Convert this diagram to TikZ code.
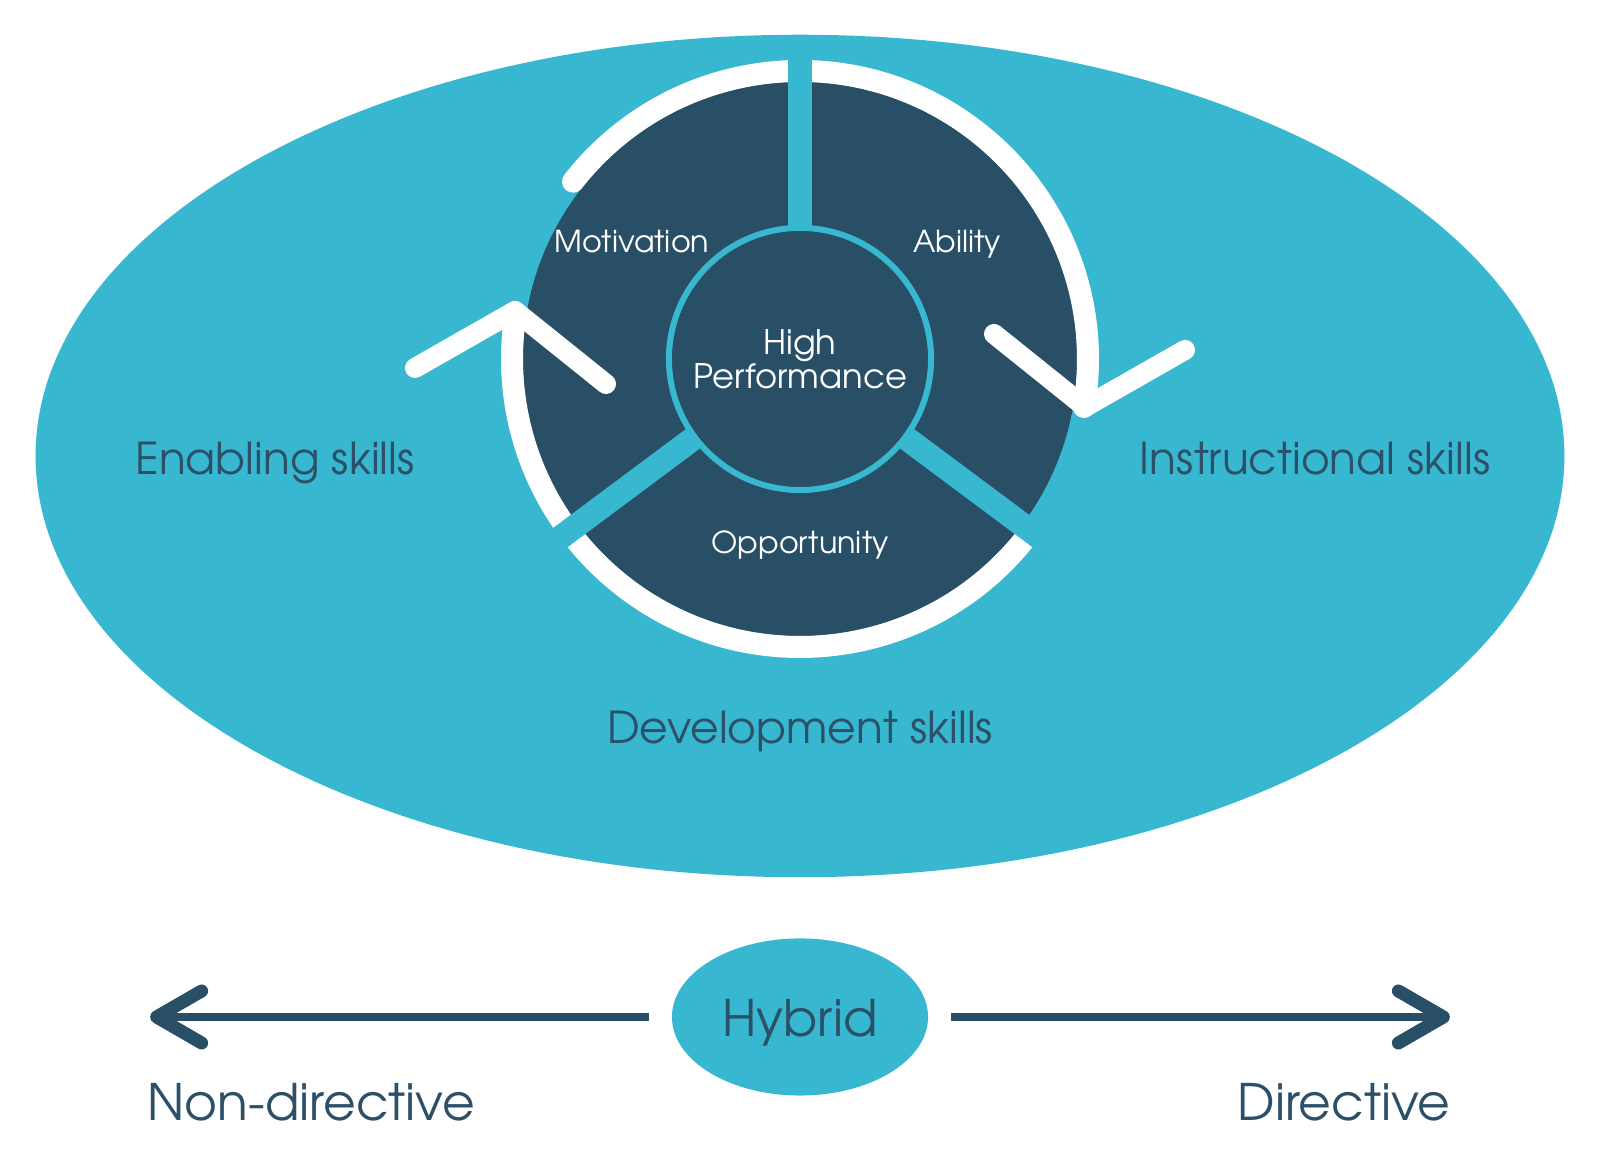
\documentclass[tikz,border=0pt]{standalone}
\usepackage{fontspec}
\setmainfont{TeX Gyre Adventor}
\usepackage{tikz}
\usetikzlibrary{calc,shapes.geometric}
\definecolor{skyteal}{RGB}{56,184,208}
\definecolor{deepnavy}{RGB}{41,79,102}
\definecolor{inkblue}{RGB}{44,80,104}
\newcommand{\skillfont}{\fontsize{12.5}{15}\selectfont}
\newcommand{\hubfont}{\fontsize{9.6}{9.6}\selectfont}
\newcommand{\wheelfont}{\fontsize{8.6}{10}\selectfont}
\newcommand{\axisfont}{\fontsize{14.3}{17}\selectfont}

\begin{document}
\begin{tikzpicture}[x=0.01cm,y=0.01cm,
    ring/.style={draw=white,line width=0.22cm},
    spoke/.style={draw=skyteal,line width=0.24cm},
    barb/.style={draw=white,line width=0.2cm,line cap=round,line join=round},
    axis/.style={draw=deepnavy,line width=0.08cm,shorten <=0.22cm},
    axisbarb/.style={draw=deepnavy,line width=0.13cm,line cap=round,line join=round},
    skill/.style={text=inkblue,font=\skillfont,anchor=base},
    part/.style={text=white,font=\wheelfont,anchor=base},
    pole/.style={text=inkblue,font=\axisfont,anchor=base}]

  \useasboundingbox[fill=white] (0,0) rectangle (1599,1171);

  % the field of skills
  \node[ellipse,fill=skyteal,inner sep=0pt,minimum width=15.28cm,minimum height=8.42cm] (field) at (800,715) { };

  % the wheel
  \node[circle,fill=deepnavy,inner sep=0pt,minimum size=5.54cm] (wheel) at (800,812) { };

  \begin{scope}[shift={(wheel.center)}]
    \draw[ring,line cap=round] (142:288) arc[start angle=142,end angle=-9.6,radius=288];
    \draw[ring] (323.3:288) arc[start angle=323.3,end angle=170.6,radius=288];
    \foreach \a in {90,216.7,323.3}
      \draw[spoke] (\a:110) -- (\a:302);
    \draw[barb] (-385,-9) -- (-285,48) -- (-194,-25);
    \draw[barb] (194,25) -- (285,-48) -- (385,9);
  \end{scope}

  \node[circle,draw=skyteal,line width=0.06cm,fill=deepnavy,inner sep=0pt,minimum size=2.62cm,
        align=center,text=white,font=\hubfont] (hub) at (wheel.center) {High\\Performance};

  \node[part] (motivation) at (632,918) {Motivation};
  \node[part] (ability) at (957,918) {Ability};
  \node[part] (opportunity) at (800,617) {Opportunity};

  \node[skill] (enabling) at (275,696) {Enabling skills};
  \node[skill] (instructional) at (1315,696) {Instructional skills};
  \node[skill] (development) at (800,427) {Development skills};

  % the scale below
  \node[ellipse,fill=skyteal,inner sep=0pt,minimum width=2.56cm,minimum height=1.57cm] (hybrid) at (800,154) { };
  \node[pole] (hybridlabel) at (800,134) {Hybrid};

  \coordinate (nondirtip) at ([xshift=-6.43cm]hybrid.center);
  \coordinate (dirtip) at ([xshift=6.43cm]hybrid.center);
  \draw[axis] (hybrid.west) -- (nondirtip);
  \draw[axis] (hybrid.east) -- (dirtip);
  \draw[axisbarb] ($(nondirtip)+(45,26)$) -- (nondirtip) -- ($(nondirtip)+(45,-26)$);
  \draw[axisbarb] ($(dirtip)+(-45,26)$) -- (dirtip) -- ($(dirtip)+(-45,-26)$);

  \node[pole] (nondirective) at (311,50) {Non-directive};
  \node[pole] (directive) at (1344,50) {Directive};

\end{tikzpicture}
\end{document}
